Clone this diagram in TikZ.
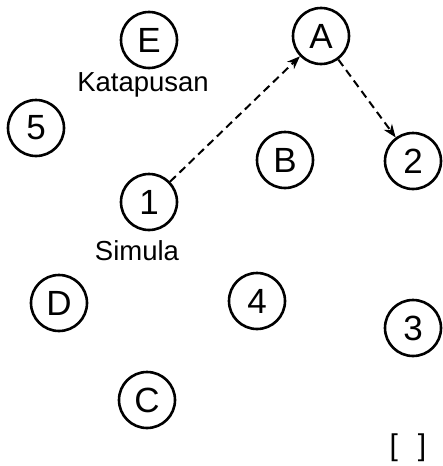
\documentclass[tikz,border=0pt]{standalone}
\usepackage{fontspec}
\setmainfont{Liberation Sans}
\usepackage{tikz}
\usetikzlibrary{
	arrows.meta,    % per la punta Stealth
	shapes.geometric
}

\begin{document}
\begin{tikzpicture}[
				x=1pt, y=-1pt,
				stato/.style={circle, draw, line width=2.6pt, minimum size=56pt, inner sep=0pt, font=\fontsize{35}{35}\selectfont},
				etichetta/.style={font=\fontsize{27.5}{28}\selectfont},
				freccia/.style={-{Stealth[length=13pt, width=10pt, inset=4pt]}, line width=2pt, dash pattern=on 8pt off 5pt}
				]
				
				% --- Area ---
				\useasboundingbox (0,0) rectangle (442,466);
				
				% --- Stati ---
				\node[stato] (E) at (149,40) {E};
				\node[stato] (A) at (321,36) {A};
				\node[stato] (s5) at (36,128) {5};
				\node[stato] (B) at (285,160) {B};
				\node[stato] (s2) at (413,161) {2};
				\node[stato] (s1) at (149,202) {1};
				\node[stato] (D) at (59,303) {D};
				\node[stato] (s4) at (257,301) {4};
				\node[stato] (s3) at (413,328) {3};
				\node[stato] (C) at (147,400) {C};
				
				% --- Etichette ---
				\node[etichetta] (fine) at (143,85) {Katapusan};
				\node[etichetta] (inizio) at (137,251) {Simula};
				\node[etichetta, font=\fontsize{30}{30}\selectfont] (risposta) at (408,448) {[\hspace{20pt}]};
				
				% --- Frecce ---
				\draw[freccia] (s1) -- (A);
				\draw[freccia] (A) -- (s2);
				
			\end{tikzpicture}
\end{document}
